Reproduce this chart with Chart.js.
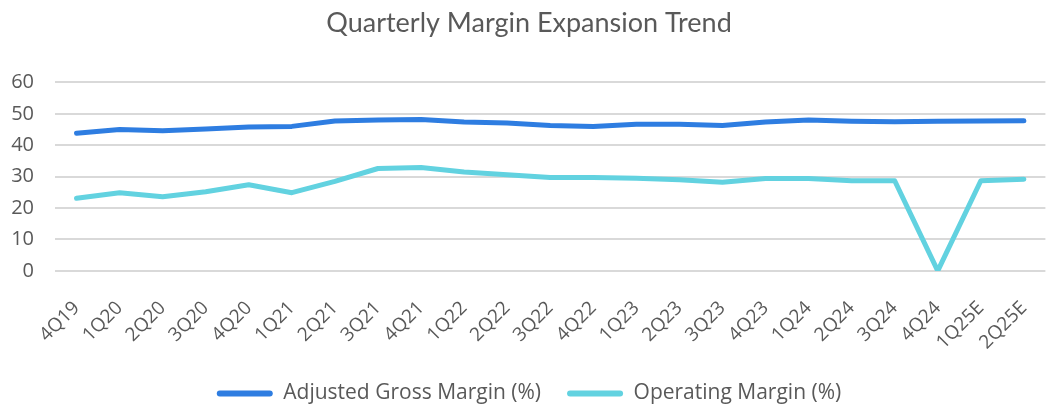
<!DOCTYPE html>
<html>
<head>
<meta charset="utf-8">
<script src="https://cdn.jsdelivr.net/npm/chart.js@4/dist/chart.umd.min.js"></script>
<style>
  html, body { margin: 0; padding: 0; background: #fff; }
  #wrap { width: 1058px; height: 406px; position: relative; }
</style>
</head>
<body>
<div id="wrap"><canvas id="chart"></canvas></div>
<script>
const quarters = ['4Q19', '1Q20', '2Q20', '3Q20', '4Q20', '1Q21', '2Q21', '3Q21', '4Q21', '1Q22', '2Q22', '3Q22',
    '4Q22', '1Q23', '2Q23', '3Q23', '4Q23', '1Q24', '2Q24', '3Q24', '4Q24', '1Q25E', '2Q25E'];
const grossMargin = [43.8, 45.0, 44.6, 45.2, 45.8, 46.0, 47.7, 48.0, 48.2, 47.4, 47.1, 46.3,
    46.0, 46.7, 46.7, 46.3, 47.4, 48.0, 47.6, 47.5, 47.6, 47.7, 47.8];
const operatingMargin = [23.1, 24.9, 23.6, 25.2, 27.4, 24.9, 28.5, 32.6, 32.9, 31.5, 30.6, 29.7,
    29.7, 29.5, 29.0, 28.2, 29.4, 29.4, 28.7, 28.7, 0, 28.7, 29.2];
const yTicks = [0, 10, 20, 30, 40, 50, 60];

const textColor = '#595959';
const gridColor = '#d9d9d9';
const blue = '#2e7de1';
const teal = '#62d2e0';

const ctx = document.getElementById('chart').getContext('2d');
new Chart(ctx, {
    type: 'line',
    data: {
        labels: quarters,
        datasets: [{
            label: 'Adjusted Gross Margin (%)',
            data: grossMargin,
            borderColor: blue,
            backgroundColor: blue,
            borderWidth: 5,
            pointRadius: 0,
            tension: 0,
            borderCapStyle: 'round',
            borderJoinStyle: 'round'
        }, {
            label: 'Operating Margin (%)',
            data: operatingMargin,
            borderColor: teal,
            backgroundColor: teal,
            borderWidth: 5,
            pointRadius: 0,
            tension: 0,
            borderCapStyle: 'round',
            borderJoinStyle: 'round'
        }]
    },
    options: {
        responsive: true,
        maintainAspectRatio: false,
        animation: false,
        layout: { padding: { top: 5, right: 0, left: 0, bottom: -8 } },
        plugins: {
            title: {
                display: true,
                text: 'Quarterly Margin Expansion Trend',
                color: textColor,
                font: { family: 'Lato', size: 27, weight: 'normal' },
                padding: { top: 2, bottom: 43 }
            },
            legend: {
                position: 'bottom',
                labels: {
                    color: textColor,
                    font: { family: 'Open Sans', size: 21 },
                    boxWidth: 56,
                    boxHeight: 6,
                    padding: 26,
                    generateLabels: (chart) => chart.data.datasets.map((ds, i) => ({
                        text: ds.label,
                        fillStyle: ds.borderColor,
                        strokeStyle: ds.borderColor,
                        lineWidth: 0,
                        borderRadius: 3,
                        fontColor: textColor,
                        datasetIndex: i
                    }))
                }
            },
            tooltip: { enabled: false }
        },
        scales: {
            y: {
                min: 0,
                max: 60,
                afterBuildTicks: (axis) => { axis.ticks = yTicks.map(v => ({ value: v })); },
                afterFit: (axis) => { axis.width = 55; },
                grid: { color: gridColor, lineWidth: 2, drawTicks: false },
                border: { display: false },
                ticks: {
                    color: textColor,
                    font: { family: 'Open Sans', size: 20 },
                    padding: 21
                }
            },
            x: {
                offset: true,
                grid: { display: false, offset: true },
                border: { display: false },
                afterFit: (axis) => { axis.height -= 15; },
                ticks: {
                    color: textColor,
                    font: { family: 'Open Sans', size: 19 },
                    minRotation: 45,
                    maxRotation: 45,
                    autoSkip: false,
                    padding: 18
                }
            }
        }
    }
});
</script>
</body>
</html>
